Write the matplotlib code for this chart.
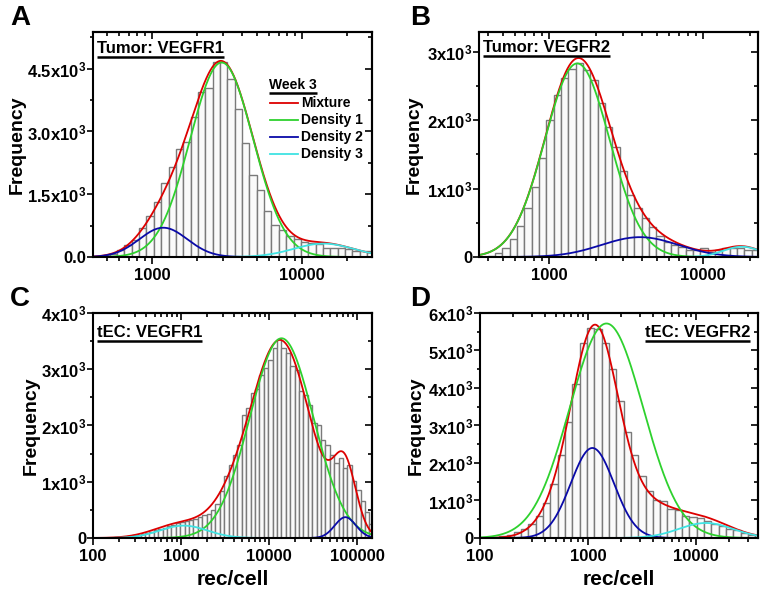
import numpy as np
import matplotlib
matplotlib.use('Agg')
import matplotlib.pyplot as plt
from matplotlib.ticker import LogLocator, NullFormatter, FuncFormatter, MultipleLocator

plt.rcParams['font.family'] = ['Liberation Sans', 'DejaVu Sans']
plt.rcParams['font.weight'] = 'bold'
plt.rcParams['mathtext.fontset'] = 'custom'
plt.rcParams['mathtext.rm'] = 'Liberation Sans:bold'
plt.rcParams['mathtext.bf'] = 'Liberation Sans:bold'
plt.rcParams['mathtext.it'] = 'Liberation Sans:bold'

# ---- data (histograms: first bin edge in log10(rec/cell), log10 bin width, counts) ----
a_edge0, a_binw = 2.67, 0.049
a_counts = [30, 70, 165, 290, 410, 700, 990, 1320, 1760, 2140, 2580, 2760, 3350, 3950,
            4050, 4650, 4650, 4250, 3540, 2720, 1950, 1610, 1100, 760, 640, 510, 430,
            370, 330, 300, 220, 220, 210, 185, 145, 145, 140]
b_edge0, b_binw = 2.60, 0.0476
b_counts = [15, 55, 130, 260, 460, 710, 1030, 1440, 2000, 2370, 2620, 2750, 2830, 2740,
            2590, 2250, 1900, 1610, 1250, 910, 720, 565, 445, 300, 225, 175, 150, 100,
            100, 125, 80, 100, 125, 135, 125, 100, 100]
c_edge0, c_binw = 2.19, 0.05
c_counts = [5, 10, 15, 25, 35, 45, 60, 75, 95, 115, 140, 165, 185, 210, 235, 270, 290,
            305, 320, 345, 365, 400, 430, 500, 600, 840, 1100, 1300, 1480, 1660, 2190,
            2310, 2580, 2640, 2900, 3020, 3170, 3380, 3540, 3380, 3290, 3050, 2990, 2610,
            2550, 2370, 2040, 2010, 1750, 1660, 1480, 1330, 1420, 1240, 1300, 1010, 860,
            650, 470, 240]
d_edge0, d_binw = 2.11, 0.0677
d_counts = [20, 40, 90, 160, 250, 380, 580, 940, 1440, 2200, 3100, 4100, 5200, 5600,
            5580, 5200, 4500, 3640, 2830, 2220, 1650, 1260, 1000, 980, 770, 740, 580,
            550, 520, 440, 370, 310, 250, 200, 140, 90, 70]

# ---- fitted curves: (height, centre log10, sd log10) ----
a_mixture = [(4650, 3.465, 0.21), (700, 3.076, 0.16), (320, 4.144, 0.20)]
a_density1 = [(4650, 3.465, 0.21)]
a_density2 = [(700, 3.076, 0.16)]
a_density3 = [(320, 4.144, 0.20)]

b_mixture = [(2830, 3.182, 0.21), (290, 3.589, 0.25), (150, 4.25, 0.12)]
b_density1 = [(2830, 3.182, 0.21)]
b_density2 = [(290, 3.589, 0.25)]
b_density3 = [(150, 4.25, 0.12)]

c_mixture = [(3500, 4.13, 0.34), (1150, 4.86, 0.13), (300, 3.55, 0.25), (250, 3.0, 0.30)]
c_density1 = [(3550, 4.143, 0.36)]
c_density2 = [(370, 4.868, 0.12)]
c_density3 = [(220, 3.03, 0.27)]

d_mixture = [(5200, 3.06, 0.21), (900, 3.5, 0.33), (500, 2.72, 0.20), (380, 4.1, 0.25)]
d_density1 = [(5720, 3.17, 0.34)]
d_density2 = [(2400, 3.04, 0.20)]
d_density3 = [(400, 4.09, 0.25)]

a_yticks, a_ylabels = [0, 1500, 3000, 4500], ['0.0', '1.5x10$^3$', '3.0x10$^3$', '4.5x10$^3$']
b_yticks, b_ylabels = [0, 1000, 2000, 3000], ['0', '1x10$^3$', '2x10$^3$', '3x10$^3$']
c_yticks, c_ylabels = [0, 1000, 2000, 3000, 4000], ['0', '1x10$^3$', '2x10$^3$', '3x10$^3$', '4x10$^3$']
d_yticks = [0, 1000, 2000, 3000, 4000, 5000, 6000]
d_ylabels = ['0', '1x10$^3$', '2x10$^3$', '3x10$^3$', '4x10$^3$', '5x10$^3$', '6x10$^3$']

legend_names = ['Mixture', 'Density 1', 'Density 2', 'Density 3']
COLORS = ['#dd0000', '#2ed12e', '#0a0aa8', '#3fe3e3']


def curve(params, lx):
    y = np.zeros_like(lx)
    for amp, mu, sd in params:
        y += amp * np.exp(-0.5 * ((lx - mu) / sd) ** 2)
    return y


def draw_panel(ax, edge0, binw, counts, curves, xlim, ylim, yticks, ylabels, yminor):
    edges = edge0 + binw * np.arange(len(counts) + 1)
    lefts = 10 ** edges[:-1]
    widths = 10 ** edges[1:] - lefts
    ax.bar(lefts, counts, width=widths, align='edge', facecolor='#fafafa',
           edgecolor='#7a7a7a', linewidth=1.0, zorder=1)

    xs = np.logspace(np.log10(xlim[0]), np.log10(xlim[1]), 600)
    for params, col in zip(curves, COLORS):
        ax.plot(xs, curve(params, np.log10(xs)), color=col, lw=1.3, zorder=2)

    ax.set_xscale('log')
    ax.set_xlim(*xlim)
    ax.set_ylim(*ylim)
    ax.xaxis.set_major_locator(LogLocator(base=10))
    ax.xaxis.set_major_formatter(FuncFormatter(lambda v, p: f'{v:.0f}'))
    ax.xaxis.set_minor_locator(LogLocator(base=10, subs=np.arange(2, 10)))
    ax.xaxis.set_minor_formatter(NullFormatter())
    ax.set_yticks(yticks)
    ax.set_yticklabels(ylabels)
    ax.yaxis.set_minor_locator(MultipleLocator(yminor))
    ax.tick_params(which='both', direction='out', width=1.2, labelsize=12, top=False, right=False)
    ax.tick_params(axis='x', which='major', length=5, pad=3)
    ax.tick_params(axis='x', which='minor', length=3)
    ax.tick_params(axis='y', which='major', length=4, pad=1)
    ax.tick_params(axis='y', which='minor', length=2.5)
    for sp in ax.spines.values():
        sp.set_linewidth(1.5)

    # mirrored ticks pointing inward on top and right
    top = ax.secondary_xaxis('top')
    top.xaxis.set_major_locator(LogLocator(base=10))
    top.xaxis.set_minor_locator(LogLocator(base=10, subs=np.arange(2, 10)))
    top.xaxis.set_minor_formatter(NullFormatter())
    top.tick_params(which='both', direction='in', width=1.2, labeltop=False)
    top.tick_params(which='major', length=5)
    top.tick_params(which='minor', length=3)
    top.spines['top'].set_linewidth(1.5)
    right = ax.secondary_yaxis('right')
    right.set_yticks(yticks)
    right.yaxis.set_minor_locator(MultipleLocator(yminor))
    right.tick_params(which='both', direction='in', width=1.2, labelright=False)
    right.tick_params(which='major', length=5)
    right.tick_params(which='minor', length=3)
    right.spines['right'].set_linewidth(1.5)

    ax.set_ylabel('Frequency', fontsize=14, fontweight='bold')


fig = plt.figure(figsize=(7.66, 5.95), dpi=100)
axA = fig.add_axes([0.1214, 0.5681, 0.3642, 0.3782])
axB = fig.add_axes([0.6253, 0.5681, 0.3642, 0.3782])
axC = fig.add_axes([0.1214, 0.0958, 0.3642, 0.3782])
axD = fig.add_axes([0.6266, 0.0958, 0.3629, 0.3782])

draw_panel(axA, a_edge0, a_binw, a_counts, [a_mixture, a_density1, a_density2, a_density3],
           (405, 29300), (0, 5380), a_yticks, a_ylabels, 750)
draw_panel(axB, b_edge0, b_binw, b_counts, [b_mixture, b_density1, b_density2, b_density3],
           (350, 22650), (0, 3290), b_yticks, b_ylabels, 500)
draw_panel(axC, c_edge0, c_binw, c_counts, [c_mixture, c_density1, c_density2, c_density3],
           (100, 148000), (0, 4000), c_yticks, c_ylabels, 500)
draw_panel(axD, d_edge0, d_binw, d_counts, [d_mixture, d_density1, d_density2, d_density3],
           (100, 37300), (0, 6000), d_yticks, d_ylabels, 500)

axA.yaxis.set_label_coords(-0.240, 0.5)
axB.yaxis.set_label_coords(-0.200, 0.5)
axC.yaxis.set_label_coords(-0.190, 0.5)
axD.yaxis.set_label_coords(-0.198, 0.5)
for ax in (axC, axD):
    ax.set_xlabel('rec/cell', fontsize=15, fontweight='bold')
    ax.xaxis.set_label_coords(0.5, -0.142)

# panel titles (underlined)
titles = [(axA, 'Tumor: VEGFR1', 0.014, 0.907, 'left'),
          (axB, 'Tumor: VEGFR2', 0.014, 0.911, 'left'),
          (axC, 'tEC: VEGFR1', 0.014, 0.893, 'left'),
          (axD, 'tEC: VEGFR2', 0.971, 0.893, 'right')]
title_texts = []
for ax, s, x, y, ha in titles:
    t = ax.text(x, y, s, transform=ax.transAxes, fontsize=12, fontweight='bold',
                ha=ha, va='baseline', zorder=5)
    title_texts.append((ax, t, y))

# legend in panel A
leg_x0, leg_x1, leg_tx = 0.634, 0.735, 0.746
leg_rows = [0.686, 0.609, 0.535, 0.458]
week = axA.text(0.631, 0.745, 'Week 3', transform=axA.transAxes, fontsize=10,
                fontweight='bold', ha='left', va='baseline')
title_texts.append((axA, week, 0.745))
for name, col, yy in zip(legend_names, COLORS, leg_rows):
    axA.plot([leg_x0, leg_x1], [yy, yy], transform=axA.transAxes, color=col, lw=1.3)
    axA.text(leg_tx, yy, name, transform=axA.transAxes, fontsize=10, fontweight='bold',
             ha='left', va='center')

# panel letters
for s, x, y in [('A', 0.013, 0.958), ('B', 0.535, 0.958), ('C', 0.013, 0.486), ('D', 0.535, 0.486)]:
    fig.text(x, y, s, fontsize=20, fontweight='bold', ha='left', va='baseline')

# underline titles using their rendered extent
fig.canvas.draw()
r = fig.canvas.get_renderer()
for ax, t, y in title_texts:
    bb = t.get_window_extent(r).transformed(ax.transAxes.inverted())
    yy = y - 4.0 / (ax.bbox.height)
    ax.plot([bb.x0, bb.x1], [yy, yy], transform=ax.transAxes, color='black', lw=1.8,
            solid_capstyle='butt', clip_on=False)

fig.savefig('out.png', dpi=100)
